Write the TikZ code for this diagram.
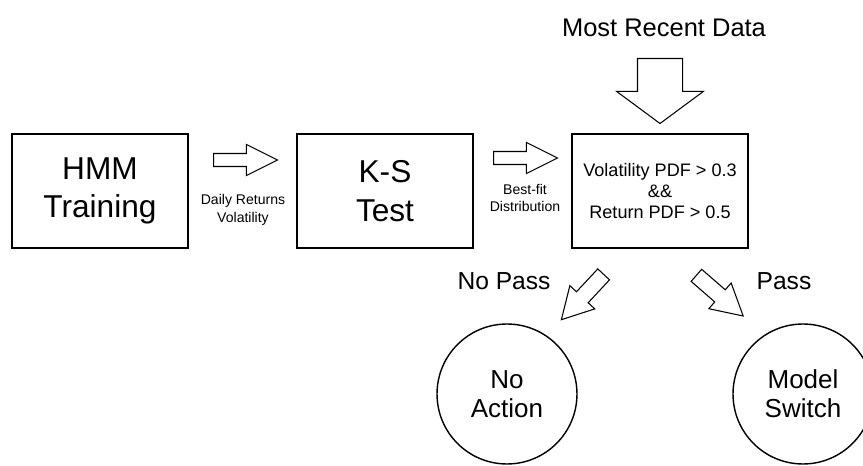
\documentclass[tikz,border=0pt]{standalone}
\usepackage{fontspec}
\setmainfont{Liberation Sans}
\usetikzlibrary{shapes.arrows,positioning}

\begin{document}
\begin{tikzpicture}[x=0.02cm, y=-0.02cm,
  box/.style={rectangle, draw, line width=0.8pt, minimum width=3.52cm, minimum height=2.28cm, align=center, font=\fontsize{18}{22}\selectfont},
  blockarrow/.style={single arrow, draw, line width=0.6pt, inner xsep=0pt, single arrow head indent=0pt, anchor=tail},
  note/.style={align=center, font=\fontsize{8}{10.2}\selectfont},
  label/.style={anchor=base, font=\fontsize{14}{16}\selectfont},
  outcome/.style={circle, draw, line width=0.8pt, minimum size=2.8cm, inner sep=0pt, align=center, font=\fontsize{14.8}{16.5}\selectfont}
]
  \useasboundingbox (0,0) rectangle (863,466);

  \node[box] (train) at (100,191) {HMM\\Training};
  \node[box] (kstest) at (385,191) {K-S\\Test};
  \node[box, font=\fontsize{10.3}{12.2}\selectfont] (check) at (660,191) {Volatility PDF > 0.3\\\&\&\\Return PDF > 0.5};

  \node[blockarrow, minimum height=1.28cm, inner ysep=0.12cm, single arrow head extend=0.18cm, single arrow tip angle=53] (arrTrain) at (213,160) {};
  \node[note] (feat) at (243,210) {Daily Returns\\Volatility};
  \node[blockarrow, minimum height=1.28cm, inner ysep=0.12cm, single arrow head extend=0.18cm, single arrow tip angle=53] (arrTest) at (493,158) {};
  \node[note] (fit) at (525,198) {Best-fit\\Distribution};

  \node[label, font=\fontsize{14.5}{16}\selectfont] (recent) at (664,37) {Most Recent Data};
  \node[blockarrow, rotate=-90, minimum height=1.3cm, inner ysep=0.44cm, single arrow head extend=0.42cm, single arrow tip angle=107] (arrData) at (660,58) {};

  \node[blockarrow, rotate=227, minimum height=1.24cm, inner ysep=0.15cm, single arrow head extend=0.18cm, single arrow tip angle=58] (arrFail) at (604,274) {};
  \node[blockarrow, rotate=-41, minimum height=1.24cm, inner ysep=0.15cm, single arrow head extend=0.18cm, single arrow tip angle=58] (arrPass) at (696,275) {};
  \node[label] (nopass) at (504,290) {No Pass};
  \node[label] (pass) at (784,290) {Pass};

  \node[outcome] (noact) at (507,394) {No\\Action};
  \node[outcome] (switch) at (803,394) {Model\\Switch};
\end{tikzpicture}
\end{document}
